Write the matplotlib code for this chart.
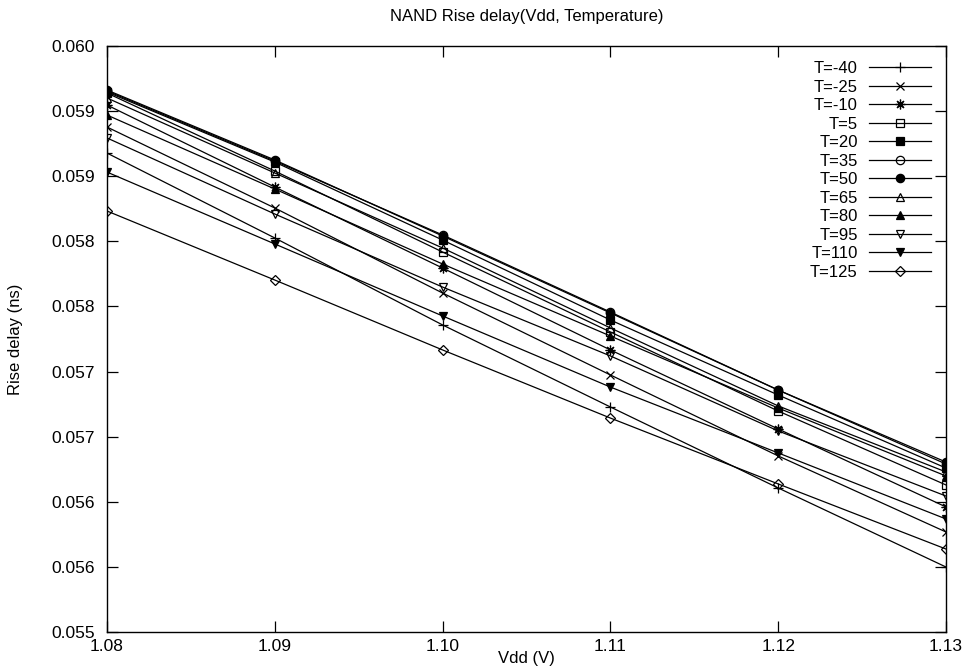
import numpy as np
import matplotlib
matplotlib.use('Agg')
from matplotlib import pyplot as plt

plt.rcParams['font.family'] = ['Liberation Sans', 'DejaVu Sans']

# 电源电压
vdd = [1.08, 1.09, 1.10, 1.11, 1.12, 1.13]
temps = [-40, -25, -10, 5, 20, 35, 50, 65, 80, 95, 110, 125]
# 每个温度一条曲线 (ns)
d_m40 = [0.059178, 0.058526, 0.057858, 0.057228, 0.056606, 0.055999]
d_m25 = [0.059378, 0.058756, 0.058103, 0.057474, 0.056852, 0.056268]
d_m10 = [0.059547, 0.058917, 0.058295, 0.057666, 0.057059, 0.056460]
d_5 = [0.059639, 0.059040, 0.058418, 0.057804, 0.057197, 0.056629]
d_20 = [0.059647, 0.059109, 0.058510, 0.057896, 0.057320, 0.056759]
d_35 = [0.059655, 0.059117, 0.058549, 0.057957, 0.057358, 0.056790]
d_50 = [0.059662, 0.059125, 0.058541, 0.057950, 0.057358, 0.056805]
d_65 = [0.059601, 0.059025, 0.058449, 0.057835, 0.057236, 0.056729]
d_80 = [0.059470, 0.058902, 0.058326, 0.057773, 0.057220, 0.056698]
d_95 = [0.059294, 0.058710, 0.058149, 0.057620, 0.057044, 0.056544]
d_110 = [0.059032, 0.058480, 0.057927, 0.057381, 0.056875, 0.056368]
d_125 = [0.058733, 0.058203, 0.057666, 0.057143, 0.056637, 0.056137]
series = [d_m40, d_m25, d_m10, d_5, d_20, d_35, d_50, d_65, d_80, d_95, d_110, d_125]

ytick_vals = [0.0555, 0.0560, 0.0565, 0.0570, 0.0575, 0.0580, 0.0585, 0.0590, 0.0595, 0.0600]
ytick_labels = ['0.055', '0.056', '0.056', '0.057', '0.057', '0.058', '0.058', '0.059', '0.059', '0.060']

# 点型 (gnuplot 风格)
markers = ['+', 'x', (8, 2, 0), 's', 's', 'o', 'o', '^', '^', 'v', 'v', 'D']
fills = ['full', 'full', 'full', 'none', 'full', 'none', 'full', 'none', 'full', 'none', 'full', 'none']
sizes = [7, 6, 7, 6, 6, 6, 6, 6, 6, 6, 6, 5]

fig = plt.figure(figsize=(9.71, 6.71), dpi=100)
ax = fig.add_axes([0.1102, 0.0581, 0.8641, 0.8733])

for t, d, m, f, s in zip(temps, series, markers, fills, sizes):
    ax.plot(vdd, d, color='black', lw=0.9, marker=m, ms=s, fillstyle=f,
            mfc='black' if f == 'full' else 'white', mec='black', mew=0.9,
            label='T=%d' % t)

ax.set_xlim(1.08, 1.13)
ax.set_ylim(0.0555, 0.0600)
ax.set_xticks(vdd)
ax.set_xticklabels(['%.2f' % v for v in vdd])
ax.set_yticks(ytick_vals)
ax.set_yticklabels(ytick_labels)
ax.tick_params(direction='in', length=8, width=0.9, top=True, right=True, labelsize=12.5)
ax.tick_params(axis='y', pad=9)
ax.tick_params(axis='x', pad=5)
for sp in ax.spines.values():
    sp.set_linewidth(1.0)

ax.set_title('NAND Rise delay(Vdd, Temperature)', fontsize=12, pad=18)
ax.set_xlabel('Vdd (V)', fontsize=12, labelpad=-2)
ax.set_ylabel('Rise delay (ns)', fontsize=12, labelpad=20)

ax.legend(loc='upper right', frameon=False, markerfirst=False, fontsize=12,
          handlelength=3.7, labelspacing=0.21, handletextpad=0.7,
          borderaxespad=0.5)

plt.savefig('out.png', dpi=100)
